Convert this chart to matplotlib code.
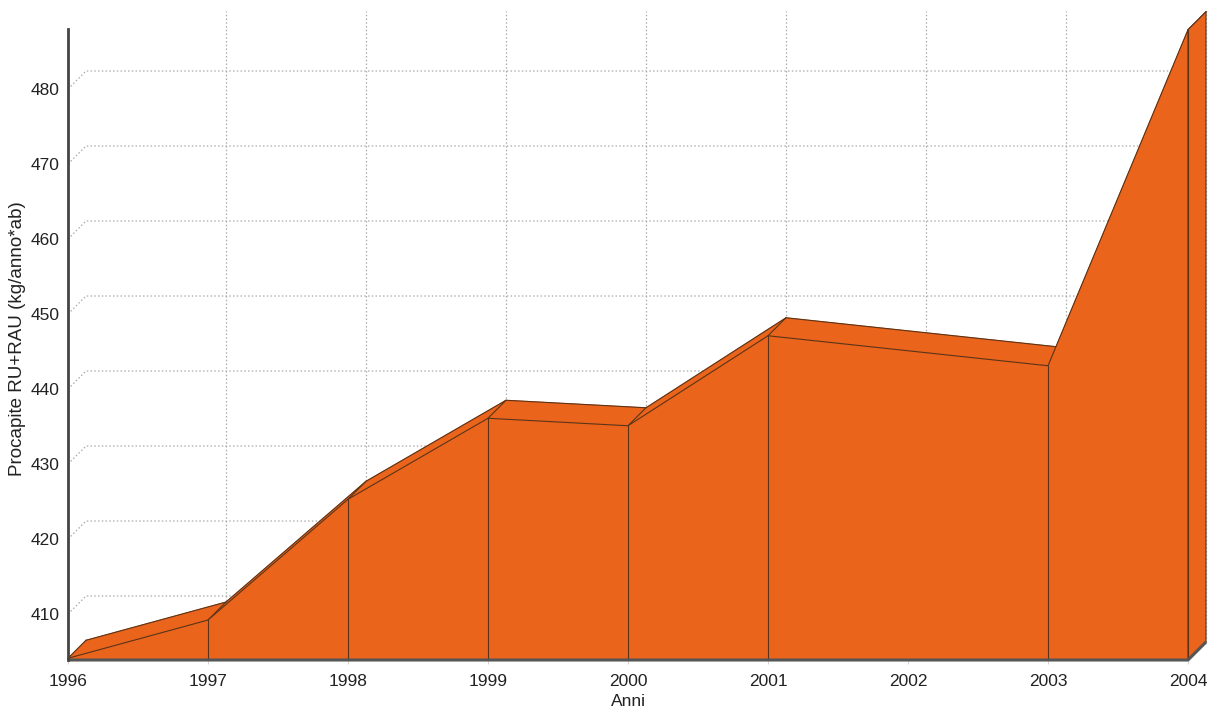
import numpy as np
import matplotlib.pyplot as plt

plt.rcParams['font.family'] = ['Liberation Sans', 'DejaVu Sans']

years = [1996, 1997, 1998, 1999, 2000, 2001, 2002, 2003, 2004]
procapite = [404.1, 409.2, 425.3, 436.1, 435.1, 447.1, 445.1, 443.1, 487.9]
y_ticks = [410, 420, 430, 440, 450, 460, 470, 480]

YMIN, YMAX = 403.87, 488.0
ORANGE = '#ea641b'
EDGE = '#5a3318'
GRID = '#aaaaaa'
AXIS = '#555555'
TEXT = '#222222'

W, H, DPI = 1223, 713, 100
fig = plt.figure(figsize=(W / DPI, H / DPI), dpi=DPI)
# axes box = front plane of the 3d plot, in pixels
left, right, bottom, top = 68, 1188, 53, 684
ax = fig.add_axes([left / W, bottom / H, (right - left) / W, (top - bottom) / H])
ax.set_xlim(years[0], years[-1])
ax.set_ylim(YMIN, YMAX)

# depth of the 3d effect, 18 px converted to data units
depth = 18
DX = depth * (years[-1] - years[0]) / (right - left)
DY = depth * (YMAX - YMIN) / (top - bottom)

x = np.array(years, dtype=float)
y = np.array(procapite)

# vertices where the outline bends (collinear points get no seam)
slopes = np.diff(y) / np.diff(x)
bend = np.r_[True, np.abs(np.diff(slopes)) > 1e-6, True]

# back wall grid
for v in y_ticks:
    ax.plot([x[0], x[0] + DX, x[-1] + DX], [v, v + DY, v + DY],
            color=GRID, lw=0.9, ls=(0, (1.2, 1.8)), clip_on=False, zorder=1)
for xv in years[1:]:
    ax.plot([xv + DX, xv + DX], [YMIN + DY, YMAX + DY],
            color=GRID, lw=0.9, ls=(0, (1.2, 1.8)), clip_on=False, zorder=1)

# top surface of the area
for i in range(len(x) - 1):
    px = [x[i], x[i + 1], x[i + 1] + DX, x[i] + DX]
    py = [y[i], y[i + 1], y[i + 1] + DY, y[i] + DY]
    ax.fill(px, py, facecolor=ORANGE, edgecolor=ORANGE, lw=0.6,
            clip_on=False, zorder=2)
ax.plot(x + DX, y + DY, color=EDGE, lw=0.8, clip_on=False, zorder=2.5)
for i in np.where(bend)[0]:
    ax.plot([x[i], x[i] + DX], [y[i], y[i] + DY], color=EDGE, lw=0.8,
            clip_on=False, zorder=2.5)

# right side face
ax.fill([x[-1], x[-1], x[-1] + DX, x[-1] + DX],
        [YMIN, y[-1], y[-1] + DY, YMIN + DY],
        facecolor=ORANGE, edgecolor=EDGE, lw=0.8, clip_on=False, zorder=2.6)

# front face
ax.fill(np.r_[x[0], x, x[-1]], np.r_[YMIN, y, YMIN],
        facecolor=ORANGE, edgecolor=EDGE, lw=0.8, clip_on=False, zorder=3)
for i in range(1, len(x)):
    if bend[i]:
        ax.plot([x[i], x[i]], [YMIN, y[i]], color=EDGE, lw=0.8,
                clip_on=False, zorder=4)

# base slab and axis lines
ax.plot([x[0], x[-1], x[-1] + DX], [YMIN, YMIN, YMIN + DY],
        color=AXIS, lw=2.2, clip_on=False, zorder=5, solid_capstyle='butt')
ax.plot([x[0], x[0]], [YMIN, YMAX], color='#444444', lw=2.0,
        clip_on=False, zorder=5)

for s in ax.spines.values():
    s.set_visible(False)
ax.set_xticks(years)
ax.set_xticklabels([str(v) for v in years], fontsize=12.5, color=TEXT)
ax.set_yticks(y_ticks)
ax.set_yticklabels([str(v) for v in y_ticks], fontsize=12.5, color=TEXT)
ax.tick_params(axis='y', length=0, pad=6)
ax.tick_params(axis='x', length=3, width=0.6, color='#cccccc', pad=7)
ax.set_xlabel('Anni', fontsize=12.5, color=TEXT, labelpad=4)
ax.set_ylabel('Procapite RU+RAU (kg/anno*ab)', fontsize=13.5, color=TEXT)
ax.yaxis.set_label_coords(-0.0375, 0.51)

fig.savefig('out.png', dpi=DPI)
